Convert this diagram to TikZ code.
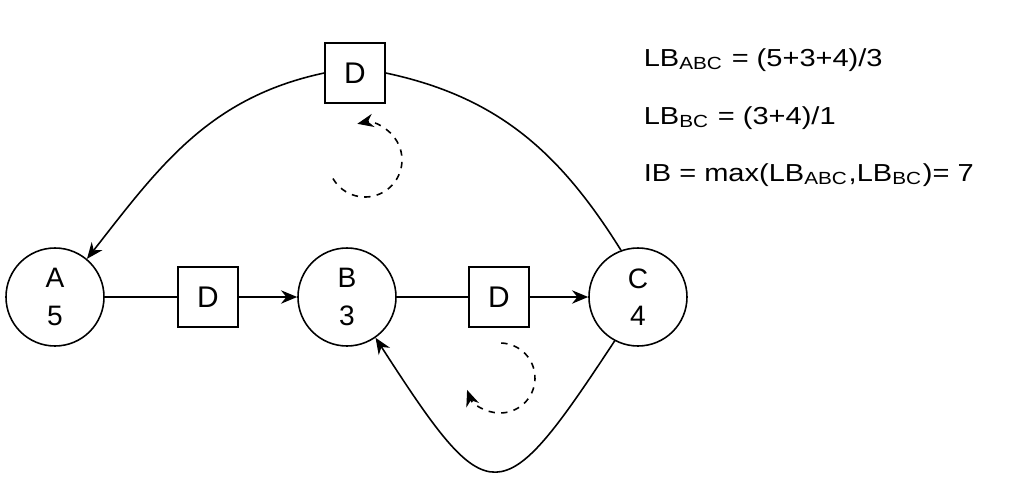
\documentclass[tikz,border=0pt]{standalone}
\usepackage{fontspec}
\setmainfont{Liberation Sans}
\newfontfamily\eqfont[FakeStretch=1.18]{Liberation Sans}
\usetikzlibrary{arrows.meta}

\begin{document}
\begin{tikzpicture}[-,>={Stealth[length=4.6pt,width=3.8pt]},line width=0.45pt,
    state node/.style={circle,draw,minimum size=0.98cm,inner sep=0pt,align=center,font=\fontsize{8}{10.6}\selectfont},
    delay node/.style={rectangle,draw,minimum size=0.6cm,inner sep=0pt,font=\fontsize{8.5}{10}\selectfont},
    loop arc/.style={dashed,dash pattern=on 1.8pt off 1.8pt,->},
    eq node/.style={anchor=base west,inner sep=0pt,font=\eqfont\fontsize{7}{8}\selectfont}]
	\useasboundingbox (0,0) rectangle (10.09,4.84);
	\draw (0.55,1.87) node(a) [state node] {A\\5}
	      (3.47,1.87) node(b) [state node] {B\\3}
	      (6.38,1.87) node(c) [state node] {C\\4}
	      (2.08,1.87) node(d1) [delay node] {D}
	      (4.99,1.87) node(d2) [delay node] {D}
	      (3.55,4.11) node(d3) [delay node] {D};
	% connectors
	\draw (a) -- (d1);
	\draw[->] (d1) -- (b);
	\draw (b) -- (d2);
	\draw[->] (d2) -- (c);
	\draw[->] (d3.west) to[out=192,in=52] (a.50);
	\draw (c.110) to[out=122,in=-12] (d3.east);
	\draw[->] (c.-118) .. controls (5.00,-0.31) and (4.90,-0.31) .. (b.-55);
	% dashed turns
	\coordinate (t1) at (3.65,3.24);
	\coordinate (t2) at (5.00,1.06);
	\draw[loop arc] ([shift={(-150:0.37)}]t1) arc[start angle=-150,end angle=102,radius=0.37];
	\draw[loop arc] ([shift={(88:0.35)}]t2) arc[start angle=88,end angle=-160,radius=0.35];
	% bounds
	\node(lb1) [eq node] at (6.43,4.18) {LB\textsubscript{ABC} = (5+3+4)/3};
	\node(lb2) [eq node] at (6.43,3.60) {LB\textsubscript{BC} = (3+4)/1};
	\node(ib) [eq node] at (6.43,3.03) {IB = max(LB\textsubscript{ABC},LB\textsubscript{BC})= 7};
\end{tikzpicture}
\end{document}
